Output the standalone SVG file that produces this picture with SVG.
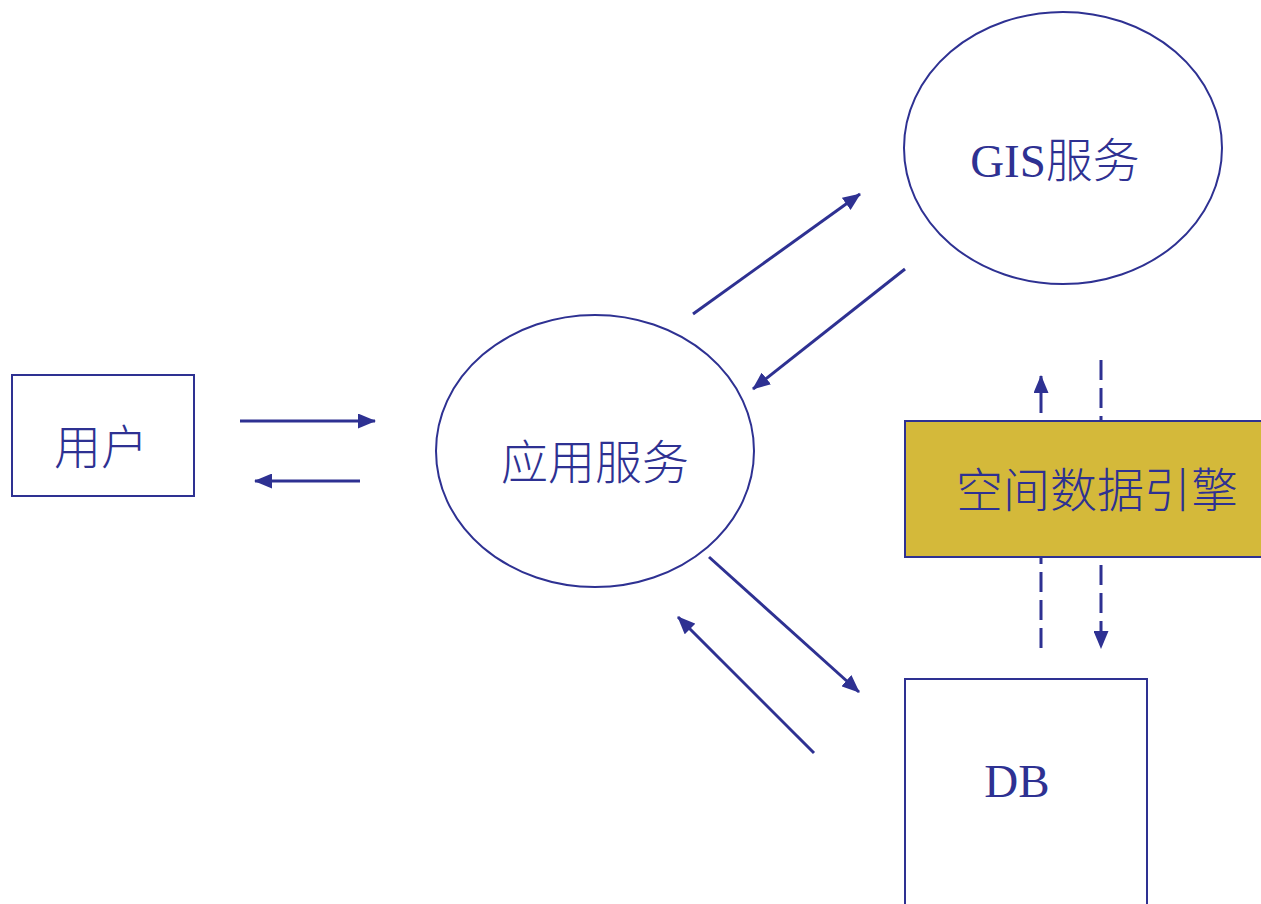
<svg xmlns="http://www.w3.org/2000/svg" width="1261" height="904" viewBox="0 0 1261 904">
<defs>
<style>
.n{fill:#ffffff;stroke:#2e3192;stroke-width:2}
.t{fill:#2e3192;font-family:"Liberation Serif","Noto Sans CJK SC",serif;font-size:47px;font-weight:300;text-anchor:middle}
.c{stroke:#2e3192;stroke-width:3;fill:none}
.d{stroke:#2e3192;stroke-width:3;fill:none;stroke-dasharray:20 8}
</style>
<marker id="ah" viewBox="0 0 18 15" refX="17" refY="7.5" markerWidth="18" markerHeight="15" markerUnits="userSpaceOnUse" orient="auto">
<path d="M0,0 L18,7.5 L0,15 Z" fill="#2e3192"/>
</marker>
</defs>
<rect width="1261" height="904" fill="#ffffff"/>
<g id="connectors">
<line class="c" x1="240" y1="421" x2="375" y2="421" marker-end="url(#ah)"/>
<line class="c" x1="360" y1="481" x2="255" y2="481" marker-end="url(#ah)"/>
<line class="c" x1="693" y1="314" x2="860" y2="194" marker-end="url(#ah)"/>
<line class="c" x1="905" y1="269" x2="753" y2="389" marker-end="url(#ah)"/>
<line class="c" x1="709" y1="557" x2="859" y2="692" marker-end="url(#ah)"/>
<line class="c" x1="814" y1="753" x2="678" y2="617" marker-end="url(#ah)"/>
<line class="c" x1="1041" y1="413" x2="1041" y2="376" marker-end="url(#ah)"/>
<line class="d" x1="1041" y1="648" x2="1041" y2="557"/>
<line class="d" x1="1101" y1="360" x2="1101" y2="421"/>
<line class="d" x1="1101" y1="565" x2="1101" y2="648" marker-end="url(#ah)"/>
</g>
<g id="user">
<rect class="n" x="12" y="375" width="182" height="121"/>
<text class="t" x="101" y="464">用户</text>
</g>
<g id="app">
<ellipse class="n" cx="595" cy="451" rx="159" ry="136"/>
<text class="t" x="595" y="479">应用服务</text>
</g>
<g id="gis">
<ellipse class="n" cx="1063" cy="148" rx="159" ry="136"/>
<text class="t" x="1055" y="177">GIS服务</text>
</g>
<g id="engine">
<rect x="905" y="421" width="360" height="136" fill="#d4b93a" stroke="#2e3192" stroke-width="2"/>
<text class="t" x="1097" y="507">空间数据引擎</text>
</g>
<g id="db">
<rect class="n" x="905" y="679" width="242" height="240"/>
<text class="t" x="1017" y="797">DB</text>
</g>
</svg>
